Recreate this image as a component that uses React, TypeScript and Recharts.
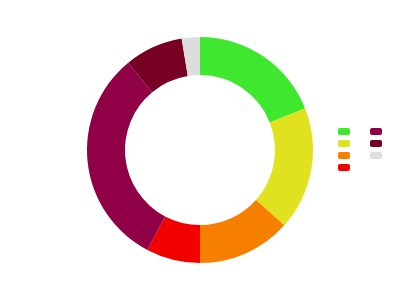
import { PieChart, Pie, Cell, Legend } from 'recharts';

const categories = ['A', 'B', 'C', 'D', 'E', 'F', 'G'];
const values = [19, 17.6, 13.4, 7.7, 31.3, 8.4, 2.6];
const colors = ['#3fe72f', '#e0e21f', '#f77f00', '#f20000', '#8f0047', '#770024', '#dddddd'];

const data = categories.map((name, i) => ({ name, value: values[i] }));

// swatch-only legend, two columns filled top-to-bottom
function SwatchLegend() {
  return (
    <div
      style={{
        display: 'grid',
        gridTemplateRows: 'repeat(4, 12px)',
        gridAutoFlow: 'column',
        gridAutoColumns: '32px',
      }}
    >
      {categories.map((name, i) => (
        <div key={name} title={name} style={{ height: 12 }}>
          <div style={{ width: 12, height: 7, borderRadius: 2, background: colors[i] }} />
        </div>
      ))}
    </div>
  );
}

export default function App() {
  return (
    <div style={{ position: 'absolute', left: 0, top: 0, background: '#fff' }}>
      <PieChart width={400} height={300} margin={{ top: 0, right: 0, bottom: 0, left: 0 }}>
        <Pie
          data={data}
          dataKey="value"
          nameKey="name"
          cx={200}
          cy={150}
          innerRadius={75}
          outerRadius={113}
          startAngle={90}
          endAngle={-270}
          stroke="none"
          isAnimationActive={false}
        >
          {data.map((d, i) => (
            <Cell key={d.name} fill={colors[i]} />
          ))}
        </Pie>
        <Legend
          content={() => <SwatchLegend />}
          wrapperStyle={{ position: 'absolute', left: 338, top: 128, width: 60 }}
        />
      </PieChart>
    </div>
  );
}
